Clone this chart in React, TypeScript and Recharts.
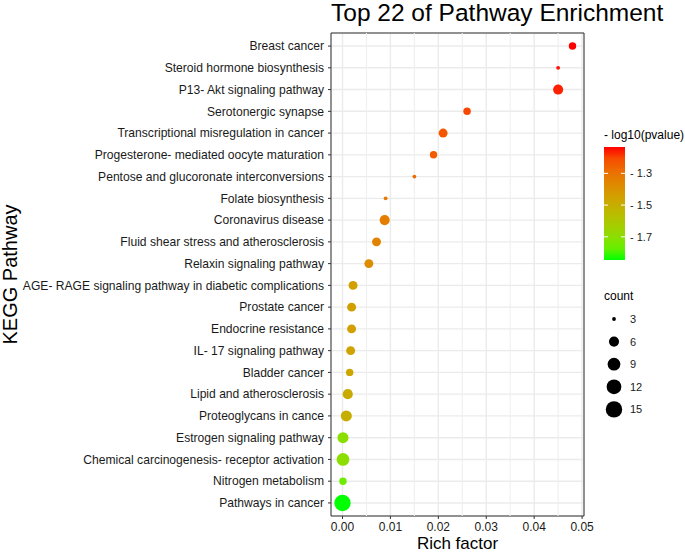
import { ScatterChart, Scatter, XAxis, YAxis, CartesianGrid, ReferenceLine, ReferenceArea, Legend, Label } from 'recharts';

// top to bottom, as in the picture
const pathways = [
  'Breast cancer',
  'Steroid hormone biosynthesis',
  'P13- Akt signaling pathway',
  'Serotonergic synapse',
  'Transcriptional misregulation in cancer',
  'Progesterone- mediated oocyte maturation',
  'Pentose and glucoronate interconversions',
  'Folate biosynthesis',
  'Coronavirus disease',
  'Fluid shear stress and atherosclerosis',
  'Relaxin signaling pathway',
  'AGE- RAGE signaling pathway in diabetic complications',
  'Prostate cancer',
  'Endocrine resistance',
  'IL- 17 signaling pathway',
  'Bladder cancer',
  'Lipid and atherosclerosis',
  'Proteoglycans in cance',
  'Estrogen signaling pathway',
  'Chemical carcinogenesis-  receptor activation',
  'Nitrogen metabolism',
  'Pathways in cancer',
];
const richFactor = [0.048, 0.045, 0.045, 0.026, 0.021, 0.019, 0.015, 0.009, 0.0088, 0.0071, 0.0055, 0.0022, 0.0019, 0.0019, 0.0017, 0.0015, 0.0011, 0.0008, 0.0001, 0.0001, 0.0001, 0.0];
const counts = [4, 3, 6, 4, 5, 4, 3, 3, 6, 5, 5, 5, 5, 5, 5, 4, 6, 7, 7, 9, 4, 15];
const logP = [-1.134, -1.14, -1.15, -1.2, -1.23, -1.24, -1.28, -1.31, -1.33, -1.35, -1.38, -1.45, -1.45, -1.45, -1.46, -1.47, -1.49, -1.5, -1.7, -1.7, -1.76, -1.846];

const xTicks = [0, 0.01, 0.02, 0.03, 0.04, 0.05];
const xMinorTicks = [0.005, 0.015, 0.025, 0.035, 0.045];
const colorTicks = [-1.3, -1.5, -1.7];
const sizeBreaks = [3, 6, 9, 12, 15];

const n = pathways.length;
const data = pathways.map((name, i) => ({
  name,
  x: richFactor[i],
  y: n - 1 - i,
  count: counts[i],
  logP: logP[i],
}));

// ggplot-like expansion of the x range
const xMin = Math.min(...richFactor);
const xMax = Math.max(...richFactor);
const xPad = (xMax - xMin) * 0.05;

const cMin = Math.min(...counts);
const cMax = Math.max(...counts);
const radius = (c: number) => 1.9 + 6.3 * Math.sqrt((c - cMin) / (cMax - cMin));

const pLow = Math.min(...logP);
const pHigh = Math.max(...logP);

// green -> red gradient interpolated in Lab, like scale_colour_gradient
const toLin = (c: number) => {
  c /= 255;
  return c <= 0.04045 ? c / 12.92 : Math.pow((c + 0.055) / 1.055, 2.4);
};
const fromLin = (c: number) => {
  const v = c <= 0.0031308 ? 12.92 * c : 1.055 * Math.pow(Math.max(c, 0), 1 / 2.4) - 0.055;
  return Math.round(Math.min(1, Math.max(0, v)) * 255);
};
const toLab = (rgb: number[]) => {
  const [r, g, b] = rgb.map(toLin);
  const x = (0.4124 * r + 0.3576 * g + 0.1805 * b) / 0.95047;
  const y = 0.2126 * r + 0.7152 * g + 0.0722 * b;
  const z = (0.0193 * r + 0.1192 * g + 0.9505 * b) / 1.08883;
  const f = (t: number) => (t > 0.008856 ? Math.cbrt(t) : 7.787 * t + 16 / 116);
  return [116 * f(y) - 16, 500 * (f(x) - f(y)), 200 * (f(y) - f(z))];
};
const fromLab = ([L, a, bb]: number[]) => {
  const fy = (L + 16) / 116;
  const fx = fy + a / 500;
  const fz = fy - bb / 200;
  const inv = (t: number) => (t ** 3 > 0.008856 ? t ** 3 : (t - 16 / 116) / 7.787);
  const x = inv(fx) * 0.95047;
  const y = inv(fy);
  const z = inv(fz) * 1.08883;
  const r = 3.2406 * x - 1.5372 * y - 0.4986 * z;
  const g = -0.9689 * x + 1.8758 * y + 0.0415 * z;
  const b = 0.0557 * x - 0.204 * y + 1.057 * z;
  return `rgb(${fromLin(r)},${fromLin(g)},${fromLin(b)})`;
};
const labLow = toLab([0, 255, 0]);
const labHigh = toLab([255, 0, 0]);
const colorFor = (v: number) => {
  const t = Math.min(1, Math.max(0, (v - pLow) / (pHigh - pLow)));
  return fromLab(labLow.map((l, k) => l + (labHigh[k] - l) * t));
};

const Dot = (props: any) => {
  const { cx, cy, payload } = props;
  if (cx == null || cy == null) return null;
  return <circle cx={cx} cy={cy} r={radius(payload.count)} fill={colorFor(payload.logP)} />;
};

// plain text tick so long names never wrap
const PathwayTick = (props: any) => {
  const { x, y, payload } = props;
  return (
    <text x={x} y={y} dy={4.3} textAnchor="end" fontSize={12.1} fill="#1a1a1a">
      {pathways[n - 1 - payload.value]}
    </text>
  );
};

// colour bar + size legend, drawn to the right of the panel
const PathwayLegend = () => {
  const barTop = 27;
  const barH = 113;
  const vy = (v: number) => barTop + ((pHigh - v) / (pHigh - pLow)) * barH;
  const stops = Array.from({ length: 11 }, (_, i) => i / 10);
  return (
    <svg width={85} height={300} style={{ fontFamily: '"Liberation Sans", Arial, sans-serif' }}>
      <defs>
        <linearGradient id="pgrad" x1="0" y1="1" x2="0" y2="0">
          {stops.map((s) => (
            <stop key={s} offset={s} stopColor={colorFor(pLow + s * (pHigh - pLow))} />
          ))}
        </linearGradient>
      </defs>
      <text x={4} y={19} fontSize={12} fill="#000">- log10(pvalue)</text>
      <rect x={4} y={barTop} width={21} height={barH} fill="url(#pgrad)" />
      {colorTicks.map((v) => (
        <g key={v}>
          <line x1={4} x2={8} y1={vy(v)} y2={vy(v)} stroke="#fff" strokeWidth={1} />
          <line x1={21} x2={25} y1={vy(v)} y2={vy(v)} stroke="#fff" strokeWidth={1} />
          <text x={30} y={vy(v) + 4} fontSize={11} fill="#1a1a1a">{`- ${Math.abs(v).toFixed(1)}`}</text>
        </g>
      ))}
      <text x={4} y={180} fontSize={12} fill="#000">count</text>
      {sizeBreaks.map((c, i) => (
        <g key={c}>
          <circle cx={14} cy={199 + i * 22.6} r={radius(c)} fill="#000" />
          <text x={30} y={199 + i * 22.6 + 4} fontSize={11} fill="#1a1a1a">{c}</text>
        </g>
      ))}
    </svg>
  );
};

export default function App() {
  return (
    <div
      style={{
        position: 'absolute',
        left: 0,
        top: 0,
        width: 685,
        height: 553,
        background: '#fff',
        fontFamily: '"Liberation Sans", Arial, sans-serif',
      }}
    >
      <div style={{ position: 'absolute', left: 331, top: 1, fontSize: 24.5, lineHeight: '24px', color: '#000', whiteSpace: 'nowrap' }}>
        Top 22 of Pathway Enrichment
      </div>
      <ScatterChart width={685} height={553} margin={{ top: 33, right: 101, bottom: 0, left: 0 }}>
        <CartesianGrid stroke="#EBEBEB" strokeWidth={1.4} />
        {xMinorTicks.map((v) => (
          <ReferenceLine key={v} x={v} stroke="#EFEFEF" strokeWidth={1.1} />
        ))}
        <XAxis
          type="number"
          dataKey="x"
          domain={[xMin - xPad, xMax + xPad]}
          ticks={xTicks}
          tickFormatter={(v: number) => v.toFixed(2)}
          axisLine={false}
          tickLine={{ stroke: '#333' }}
          tickSize={3}
          tickMargin={3}
          height={37}
          tick={{ fontSize: 12, fill: '#1a1a1a' }}
          allowDataOverflow
        >
          <Label value="Rich factor" position="insideBottom" offset={4} style={{ fontSize: 17, fill: '#000' }} />
        </XAxis>
        <YAxis
          type="number"
          dataKey="y"
          domain={[-0.6, n - 0.4]}
          ticks={data.map((d) => d.y)}
          interval={0}
          axisLine={false}
          tickLine={{ stroke: '#333' }}
          tickSize={3}
          tickMargin={4}
          width={331}
          tick={<PathwayTick />}
          allowDataOverflow
        >
          <Label value="KEGG Pathway" angle={-90} position="insideLeft" offset={10} style={{ textAnchor: 'middle', fontSize: 20, fill: '#000' }} />
        </YAxis>
        <ReferenceArea x1={xMin - xPad} x2={xMax + xPad} y1={-0.6} y2={n - 0.4} fill="none" stroke="#333" strokeWidth={1} />
        <Scatter data={data} shape={<Dot />} isAnimationActive={false} />
        <Legend
          layout="vertical"
          align="center"
          verticalAlign="middle"
          content={() => <PathwayLegend />}
          wrapperStyle={{ position: 'absolute', left: 600, top: 120, width: 85, height: 300 }}
        />
      </ScatterChart>
    </div>
  );
}
